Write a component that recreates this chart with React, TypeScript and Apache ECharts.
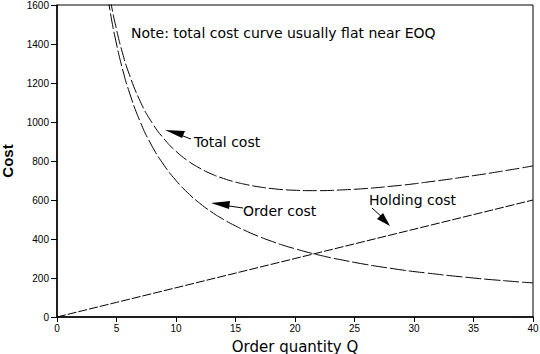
import React, { useEffect, useRef } from "react";
import * as echarts from "echarts";

const orderQ = [4, 4.5, 5, 5.5, 6, 7, 8, 9, 10, 11, 12, 13, 14, 15, 16, 17, 18, 19, 20, 21, 22, 23, 24, 25, 26, 27, 28, 29, 30, 31, 32, 33, 34, 35, 36, 37, 38, 39, 40];
const orderCost = [1750, 1555, 1400, 1273, 1167, 1000, 875, 778, 700, 636, 583, 538, 500, 467, 438, 412, 389, 368, 350, 333, 318, 304, 292, 280, 269, 259, 250, 241, 233, 226, 219, 212, 206, 200, 194, 189, 184, 179, 175];
const totalCost = [1810, 1623, 1475, 1355, 1257, 1105, 995, 913, 850, 801, 763, 733, 710, 692, 678, 667, 659, 653, 650, 648, 648, 649, 652, 655, 659, 664, 670, 676, 683, 691, 699, 707, 716, 725, 734, 744, 754, 764, 775];
const holdQ = [0, 5, 10, 15, 20, 25, 30, 35, 40];
const holdingCost = [0, 75, 150, 225, 300, 375, 450, 525, 600];
const xTicks = { min: 0, max: 40, interval: 5 };
const yTicks = { min: 0, max: 1600, interval: 200 };

const FONT = "Liberation Sans, Arial, sans-serif";
const TFONT = "DejaVu Sans, sans-serif";

export default function App() {
  const ref = useRef<HTMLDivElement>(null);
  useEffect(() => {
    if (!ref.current) return;
    const chart = echarts.init(ref.current, undefined, { renderer: "svg" });
    const lineStyle = (dash: number[]) => ({ color: "#000", width: 1, type: dash });
    chart.setOption({
      animation: false,
      backgroundColor: "#fff",
      grid: {
        left: 57, right: 7, top: 5, bottom: 37,
        show: true, borderColor: "#000", borderWidth: 1,
        containLabel: false, outerBoundsMode: "none",
      },
      xAxis: {
        type: "value",
        ...xTicks,
        name: "Order quantity Q",
        nameLocation: "middle",
        nameGap: 22,
        nameTextStyle: { fontFamily: TFONT, fontSize: 15, color: "#000" },
        axisLine: { lineStyle: { color: "#000", width: 1.5 } },
        axisTick: { show: true, length: 5, lineStyle: { color: "#000" } },
        axisLabel: { fontFamily: FONT, fontSize: 10, color: "#000", margin: 6, formatter: (v: number) => String(v) },
        splitLine: { show: false },
      },
      yAxis: {
        type: "value",
        ...yTicks,
        name: "Cost",
        nameLocation: "middle",
        nameGap: 42,
        nameRotate: 90,
        nameTextStyle: { fontFamily: FONT, fontSize: 15, color: "#000", fontWeight: "bold" },
        axisLine: { lineStyle: { color: "#000", width: 1.5 } },
        axisTick: { show: true, length: 6, lineStyle: { color: "#000" } },
        axisLabel: { fontFamily: FONT, fontSize: 10, color: "#000", margin: 8, formatter: (v: number) => String(v) },
        splitLine: { show: false },
      },
      series: [
        {
          name: "Total cost",
          type: "line",
          data: orderQ.map((q, i) => [q, totalCost[i]]),
          showSymbol: false,
          smooth: true,
          clip: true,
          lineStyle: lineStyle([14, 3]),
        },
        {
          name: "Order cost",
          type: "line",
          data: orderQ.map((q, i) => [q, orderCost[i]]),
          showSymbol: false,
          smooth: true,
          clip: true,
          lineStyle: lineStyle([16, 3]),
        },
        {
          name: "Holding cost",
          type: "line",
          data: holdQ.map((q, i) => [q, holdingCost[i]]),
          showSymbol: false,
          clip: true,
          lineStyle: lineStyle([9, 2]),
        },
      ],
      graphic: [
        { type: "text", left: 131, top: 26, style: { text: "Note: total cost curve usually flat near EOQ", font: `14px ${TFONT}`, fill: "#000" } },
        { type: "text", left: 194, top: 135, style: { text: "Total cost", font: `14px ${TFONT}`, fill: "#000" } },
        { type: "line", shape: { x1: 191, y1: 139, x2: 175, y2: 133 }, style: { stroke: "#000", lineWidth: 1 } },
        { type: "polygon", shape: { points: [[165, 130], [185, 131], [182, 138]] }, style: { fill: "#000" } },
        { type: "text", left: 243, top: 204, style: { text: "Order cost", font: `14px ${TFONT}`, fill: "#000" } },
        { type: "line", shape: { x1: 243, y1: 208, x2: 222, y2: 205 }, style: { stroke: "#000", lineWidth: 1 } },
        { type: "polygon", shape: { points: [[211, 203], [230, 201], [229, 209]] }, style: { fill: "#000" } },
        { type: "text", left: 369, top: 193, style: { text: "Holding cost", font: `14px ${TFONT}`, fill: "#000" } },
        { type: "line", shape: { x1: 372, y1: 208, x2: 384, y2: 219 }, style: { stroke: "#000", lineWidth: 1 } },
        { type: "polygon", shape: { points: [[390, 226], [377, 219], [383, 213]] }, style: { fill: "#000" } },
      ],
    });
    return () => chart.dispose();
  }, []);
  return <div ref={ref} style={{ position: "fixed", left: 0, top: 0, width: 540, height: 354 }} />;
}
